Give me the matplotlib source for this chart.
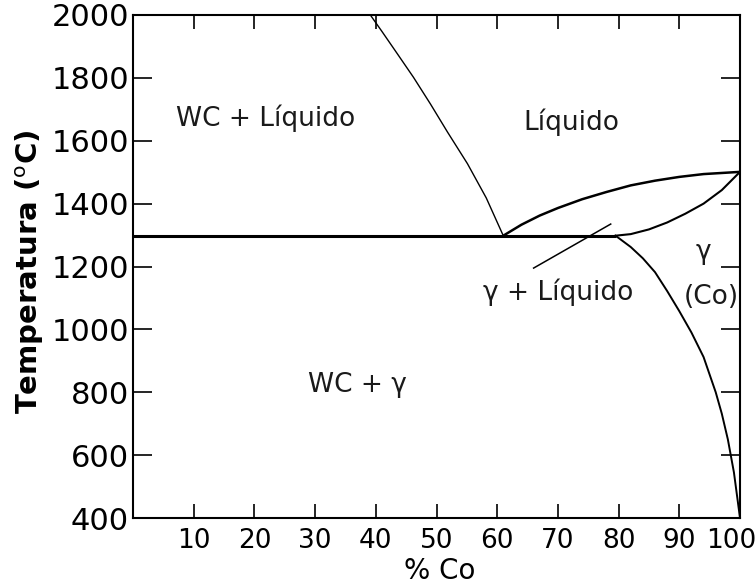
import matplotlib
matplotlib.use("Agg")
import matplotlib.pyplot as plt
from matplotlib.transforms import ScaledTranslation

# ---- data ----
eutectic_T = 1298
eutectic_x = [0, 79.5]

wc_liquidus_x = [39.1, 41.0, 43.5, 46.2, 49.0, 51.8, 55.1, 58.2, 61.0]
wc_liquidus_T = [2000, 1948, 1878, 1802, 1717, 1628, 1527, 1418, 1298]

co_liquidus_x = [61.0, 64.0, 67.0, 70.0, 74.0, 78.0, 82.0, 86.0, 90.0, 94.0, 100.0]
co_liquidus_T = [1298, 1333, 1362, 1386, 1414, 1437, 1458, 1473, 1485, 1494, 1501]

solidus_x = [79.5, 82.0, 85.0, 88.0, 91.0, 94.0, 97.0, 100.0]
solidus_T = [1298, 1303, 1318, 1340, 1368, 1400, 1443, 1501]

solvus_x = [79.5, 82.0, 84.0, 86.0, 88.0, 90.0, 92.0, 94.0, 96.0, 97.0, 98.0, 99.0, 100.0]
solvus_T = [1298, 1262, 1226, 1182, 1122, 1058, 990, 912, 800, 732, 650, 545, 400]

pointer_x = [66.0, 78.7]
pointer_T = [1195, 1335]

x_ticks = [10, 20, 30, 40, 50, 60, 70, 80, 90, 100]
y_ticks = [400, 600, 800, 1000, 1200, 1400, 1600, 1800, 2000]

labels = [
    ("WC + Líquido", 21.8, 1672),
    ("Líquido", 72.3, 1660),
    ("γ + Líquido", 70.0, 1119),
    ("γ", 94.0, 1246),
    ("(Co)", 95.2, 1103),
    ("WC + γ", 37.0, 823),
]

# ---- figure ----
fig = plt.figure(figsize=(7.55, 5.88), dpi=100)
ax = fig.add_axes([133/755, 1-518/588, (740-133)/755, (518-15)/588])
ax.set_xlim(0, 100)
ax.set_ylim(400, 2000)

k = "black"
ax.plot(eutectic_x, [eutectic_T, eutectic_T], color=k, lw=2.2, solid_capstyle="butt")
ax.plot(wc_liquidus_x, wc_liquidus_T, color=k, lw=1.0)
ax.plot(co_liquidus_x, co_liquidus_T, color=k, lw=1.8)
ax.plot(solidus_x, solidus_T, color=k, lw=1.5)
ax.plot(solvus_x, solvus_T, color=k, lw=1.4)
ax.plot(pointer_x, pointer_T, color=k, lw=1.1)

for txt, x, y in labels:
    ax.text(x, y, txt, ha="center", va="center", fontsize=19, color="#1a1a1a")

ax.set_xticks(x_ticks)
ax.set_yticks(y_ticks)
ax.set_xticklabels([str(v) for v in x_ticks])
ax.set_yticklabels([str(v) for v in y_ticks])
ax.tick_params(axis="both", direction="in", top=True, right=True, width=1.2, colors=k)
ax.tick_params(axis="x", length=10, labelsize=19, pad=7)
ax.tick_params(axis="y", length=14, labelsize=22, pad=3)
for s in ax.spines.values():
    s.set_linewidth(1.5)

# shift the "100" label left so it stays inside the figure, as in the reference
last = ax.get_xticklabels()[-1]
last.set_transform(last.get_transform() + ScaledTranslation(-9/100, 0, fig.dpi_scale_trans))

ax.set_xlabel("% Co", fontsize=20, va="center")
ax.xaxis.set_label_coords((440-133)/(740-133), -(571-518)/(518-15))
ax.set_ylabel(r"Temperatura ($^{\rm o}$C)", fontsize=21, fontweight="bold", va="center")
ax.yaxis.set_label_coords(-(133-30)/(740-133), (518-272)/(518-15))

fig.savefig("out.png", dpi=100)
